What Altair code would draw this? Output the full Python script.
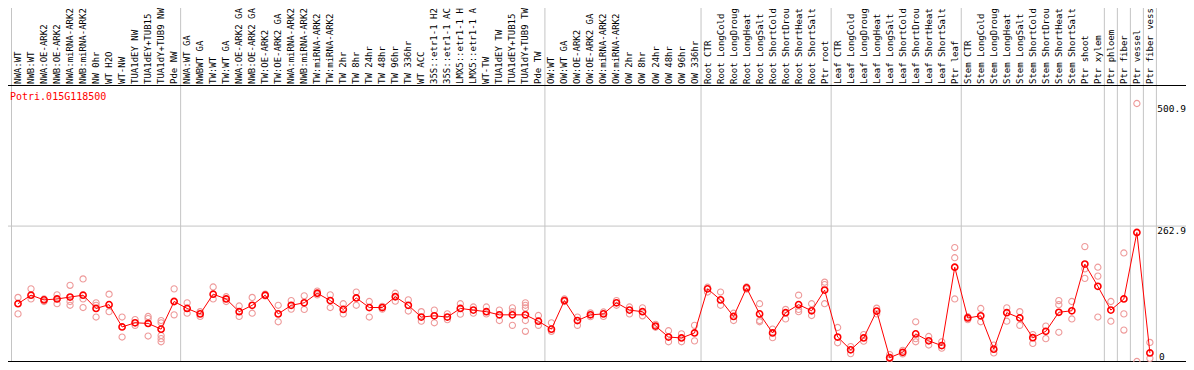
import altair as alt
import pandas as pd

gene = "Potri.015G118500"

labels = [
    "NWA:WT", "NWB:WT", "NWA:OE-ARK2", "NWB:OE-ARK2", "NWA:miRNA-ARK2", "NWB:miRNA-ARK2",
    "NW 0hr", "WT H2O", "WT-NW", "TUA1dEY NW", "TUA1dEY+TUB15", "TUA1dY+TUB9 NW", "Pde NW",
    "NWA:WT GA", "NWBWT GA", "TW:WT", "TW:WT GA", "NWA:OE-ARK2 GA", "NWB:OE-ARK2 GA",
    "TW:OE-ARK2", "TW:OE-ARK2 GA", "NWA:miRNA-ARK2", "NWB:miRNA-ARK2", "TW:miRNA-ARK2",
    "TW:miRNA-ARK2", "TW 2hr", "TW 8hr", "TW 24hr", "TW 48hr", "TW 96hr", "TW 336hr",
    "WT ACC", "35S::etr1-1 H2", "35S::etr1-1 AC", "LMX5::etr1-1 H", "LMX5::etr1-1 A",
    "WT-TW", "TUA1dEY TW", "TUA1dEY+TUB15", "TUA1dY+TUB9 TW", "Pde TW",
    "OW:WT", "OW:WT GA", "OW:OE-ARK2", "OW:OE-ARK2 GA", "OW:miRNA-ARK2", "OW:miRNA-ARK2",
    "OW 2hr", "OW 8hr", "OW 24hr", "OW 48hr", "OW 96hr", "OW 336hr",
    "Root CTR", "Root LongCold", "Root LongDroug", "Root LongHeat", "Root LongSalt",
    "Root ShortCold", "Root ShortDrou", "Root ShortHeat", "Root ShortSalt", "Ptr root",
    "Leaf CTR", "Leaf LongCold", "Leaf LongDroug", "Leaf LongHeat", "Leaf LongSalt",
    "Leaf ShortCold", "Leaf ShortDrou", "Leaf ShortHeat", "Leaf ShortSalt", "Ptr leaf",
    "Stem CTR", "Stem LongCold", "Stem LongDroug", "Stem LongHeat", "Stem LongSalt",
    "Stem ShortCold", "Stem ShortDrou", "Stem ShortHeat", "Stem ShortSalt", "Ptr shoot",
    "Ptr xylem", "Ptr phloem", "Ptr fiber", "Ptr vessel", "Ptr fiber vess",
]

means = [
    112.2, 128.8, 119.6, 121.4, 125.1, 128.8, 103.0, 110.4, 67.1, 75.2, 73.9, 62.8, 116.5,
    103.0, 92.4, 130.7, 121.4, 96.7, 109.1, 128.8, 92.4, 109.1, 114.0, 132.5, 118.3, 101.1,
    123.3, 104.8, 104.8, 125.7, 109.1, 86.3, 88.7, 86.3, 103.0, 99.8, 96.7, 90.6, 90.6,
    90.6, 78.2,
    62.8, 118.3, 79.5, 90.6, 92.4, 114.0, 99.8, 96.7, 68.9, 47.5, 45.7, 55.5,
    141.0, 119.6, 87.4, 142.9, 92.4, 55.5, 94.8, 110.4, 98.5, 138.6,
    47.5, 22.7, 45.7, 98.0, 7.4, 17.9, 53.6, 40.1, 30.9, 183.0,
    84.5, 88.7, 24.0, 94.8, 84.5, 46.2, 58.6, 95.6, 98.5, 189.1, 146.0,
    99.8, 121.4, 250.45, 16.6,
]

replicates = [
    [124.4, 92.4], [141.0, 121.4], [121.4, 116.5], [129.4, 112.2], [147.9, 116.5, 109.1],
    [160.3, 121.4, 104.8], [114.0, 109.1, 86.3], [130.7, 96.7], [86.3, 47.5], [81.3, 70.2],
    [87.4, 83.2, 49.4], [79.5, 75.2, 50.5, 44.4, 38.3], [141.0, 90.6],
    [114.0, 93.7], [96.7, 87.4], [144.7, 121.4], [125.7, 116.5], [107.8, 87.4],
    [124.4, 93.7], [130.7, 127.5], [109.1, 77.1], [118.3, 101.7], [127.5, 101.1],
    [136.8, 129.4], [129.4, 104.8], [112.2, 92.4], [134.9, 109.1], [116.5, 86.3],
    [101.7, 107.2], [132.5, 117.0], [119.6, 98.0], [96.7, 78.2], [99.8, 75.2],
    [92.4, 81.3], [112.2, 91.9], [105.9, 93.7], [105.9, 92.4], [99.8, 79.5],
    [104.1, 96.7, 70.2], [114.0, 109.1, 104.1, 79.5, 58.6], [89.3, 70.2],
    [75.2, 58.6], [121.4, 116.5], [86.3, 70.2], [94.3, 86.9], [96.1, 87.4], [118.3, 109.1],
    [105.9, 92.4], [104.1, 88.7], [72.1, 66.5], [59.7, 38.3], [53.6, 38.3], [70.2, 40.1],
    [134.9, 144.2], [134.9, 109.1], [93.7, 79.5], [144.7, 140.5], [112.2, 79.5, 77.1],
    [62.8, 46.2], [101.1, 82.6], [128.8, 101.1, 96.7], [112.2, 89.3], [154.0, 149.2, 112.2],
    [66.0, 36.4], [29.0, 15.3], [52.3, 39.4], [103.5, 92.4], [13.5, 4.3], [21.6, 14.8],
    [77.1, 44.4, 38.3], [48.6, 32.0], [38.3, 25.9], [221.3, 201.5, 121.4],
    [81.3, 86.9], [103.0, 77.1], [32.0, 16.6], [104.1, 78.2], [96.7, 70.2], [52.3, 35.1],
    [68.9, 44.4], [118.3, 110.4, 56.7], [116.5, 82.6], [223.1, 179.9, 161.4],
    [183.0, 165.8, 86.3],
    [116.5, 78.2], [210.7, 92.4, 61.0], [500.9, 0.0], [37.0, 6.1],
]

group_breaks = [0, 13, 41, 53, 63, 73, 84, 85, 86, 87, 88]
grid_values = [262.9]
tick_top = [500.9, 262.9]
tick_bottom = [0]

FONT = "DejaVu Sans Mono"
RED = "#ff0000"
PINK = "#ee9a9a"
GREY = "#c4c4c4"

W, H = 1178, 354

df_mean = pd.DataFrame({"idx": list(range(len(means))), "value": means, "label": labels})
rows = []
for i, reps in enumerate(replicates):
    for v in reps:
        rows.append({"idx": i, "value": v})
df_rep = pd.DataFrame(rows)
df_sep = pd.DataFrame({"b": group_breaks})
df_grid = pd.DataFrame({"v": grid_values})
df_top = pd.DataFrame({"v": tick_top, "t": [str(v) for v in tick_top]})
df_bot = pd.DataFrame({"v": tick_bottom, "t": [str(v) for v in tick_bottom]})
df_one = pd.DataFrame({"a": [0]})
df_gene = pd.DataFrame({"t": [gene]})

xscale = alt.Scale(domain=[-0.5, 87.5], range=[3.5, 1148.4], nice=False, zero=False)
yscale = alt.Scale(domain=[0, 500.9], range=[353.5, 95.5], nice=False, zero=False)

sep = alt.Chart(df_sep).transform_calculate(pos="datum.b - 0.5").mark_rule(
    color=GREY, strokeWidth=1
).encode(
    x=alt.X("pos:Q", scale=xscale, axis=None),
    y=alt.value(0), y2=alt.value(H),
)

grid = alt.Chart(df_grid).mark_rule(color=GREY, strokeWidth=1).encode(
    y=alt.Y("v:Q", scale=yscale, axis=None),
    x=alt.value(0), x2=alt.value(W),
)

top_line = alt.Chart(df_one).mark_rule(color="black", strokeWidth=1).encode(
    x=alt.value(0), x2=alt.value(W), y=alt.value(77.5)
)
bottom_line = alt.Chart(df_one).mark_rule(color="black", strokeWidth=1).encode(
    x=alt.value(0), x2=alt.value(W), y=alt.value(353.5)
)

header = alt.Chart(df_mean).mark_text(
    angle=270, align="left", baseline="middle", font=FONT, fontSize=9, color="black"
).encode(
    x=alt.X("idx:Q", scale=xscale, axis=None),
    y=alt.value(76),
    text="label:N",
)

reps_layer = alt.Chart(df_rep).mark_point(
    shape="circle", filled=False, color=PINK, size=38, strokeWidth=1.1, opacity=1
).encode(
    x=alt.X("idx:Q", scale=xscale, axis=None),
    y=alt.Y("value:Q", scale=yscale, axis=None),
)

line = alt.Chart(df_mean).mark_line(color=RED, strokeWidth=1).encode(
    x=alt.X("idx:Q", scale=xscale, axis=None),
    y=alt.Y("value:Q", scale=yscale, axis=None),
)

mean_pts = alt.Chart(df_mean).mark_point(
    shape="circle", filled=False, color=RED, size=38, strokeWidth=1.6, opacity=1
).encode(
    x=alt.X("idx:Q", scale=xscale, axis=None),
    y=alt.Y("value:Q", scale=yscale, axis=None),
)

gene_text = alt.Chart(df_gene).mark_text(
    align="left", baseline="middle", font=FONT, fontSize=10, color=RED
).encode(x=alt.value(2), y=alt.value(89), text="t:N")

ticks_top = alt.Chart(df_top).mark_text(
    align="left", baseline="top", font=FONT, fontSize=9.5, color="black", dy=0
).encode(
    x=alt.value(1149.3),
    y=alt.Y("v:Q", scale=yscale, axis=None),
    text="t:N",
)
ticks_bot = alt.Chart(df_bot).mark_text(
    align="left", baseline="bottom", font=FONT, fontSize=9.5, color="black", dy=0
).encode(
    x=alt.value(1151),
    y=alt.Y("v:Q", scale=yscale, axis=None),
    text="t:N",
)

chart = alt.layer(
    sep, grid, top_line, bottom_line, header,
    reps_layer, line, mean_pts, gene_text, ticks_top, ticks_bot,
).properties(
    width=W, height=H,
    autosize=alt.AutoSizeParams(type="none"),
    padding=0,
).configure_view(stroke=None)

chart.save("out.html", embed_options={"renderer": "svg", "actions": False})
